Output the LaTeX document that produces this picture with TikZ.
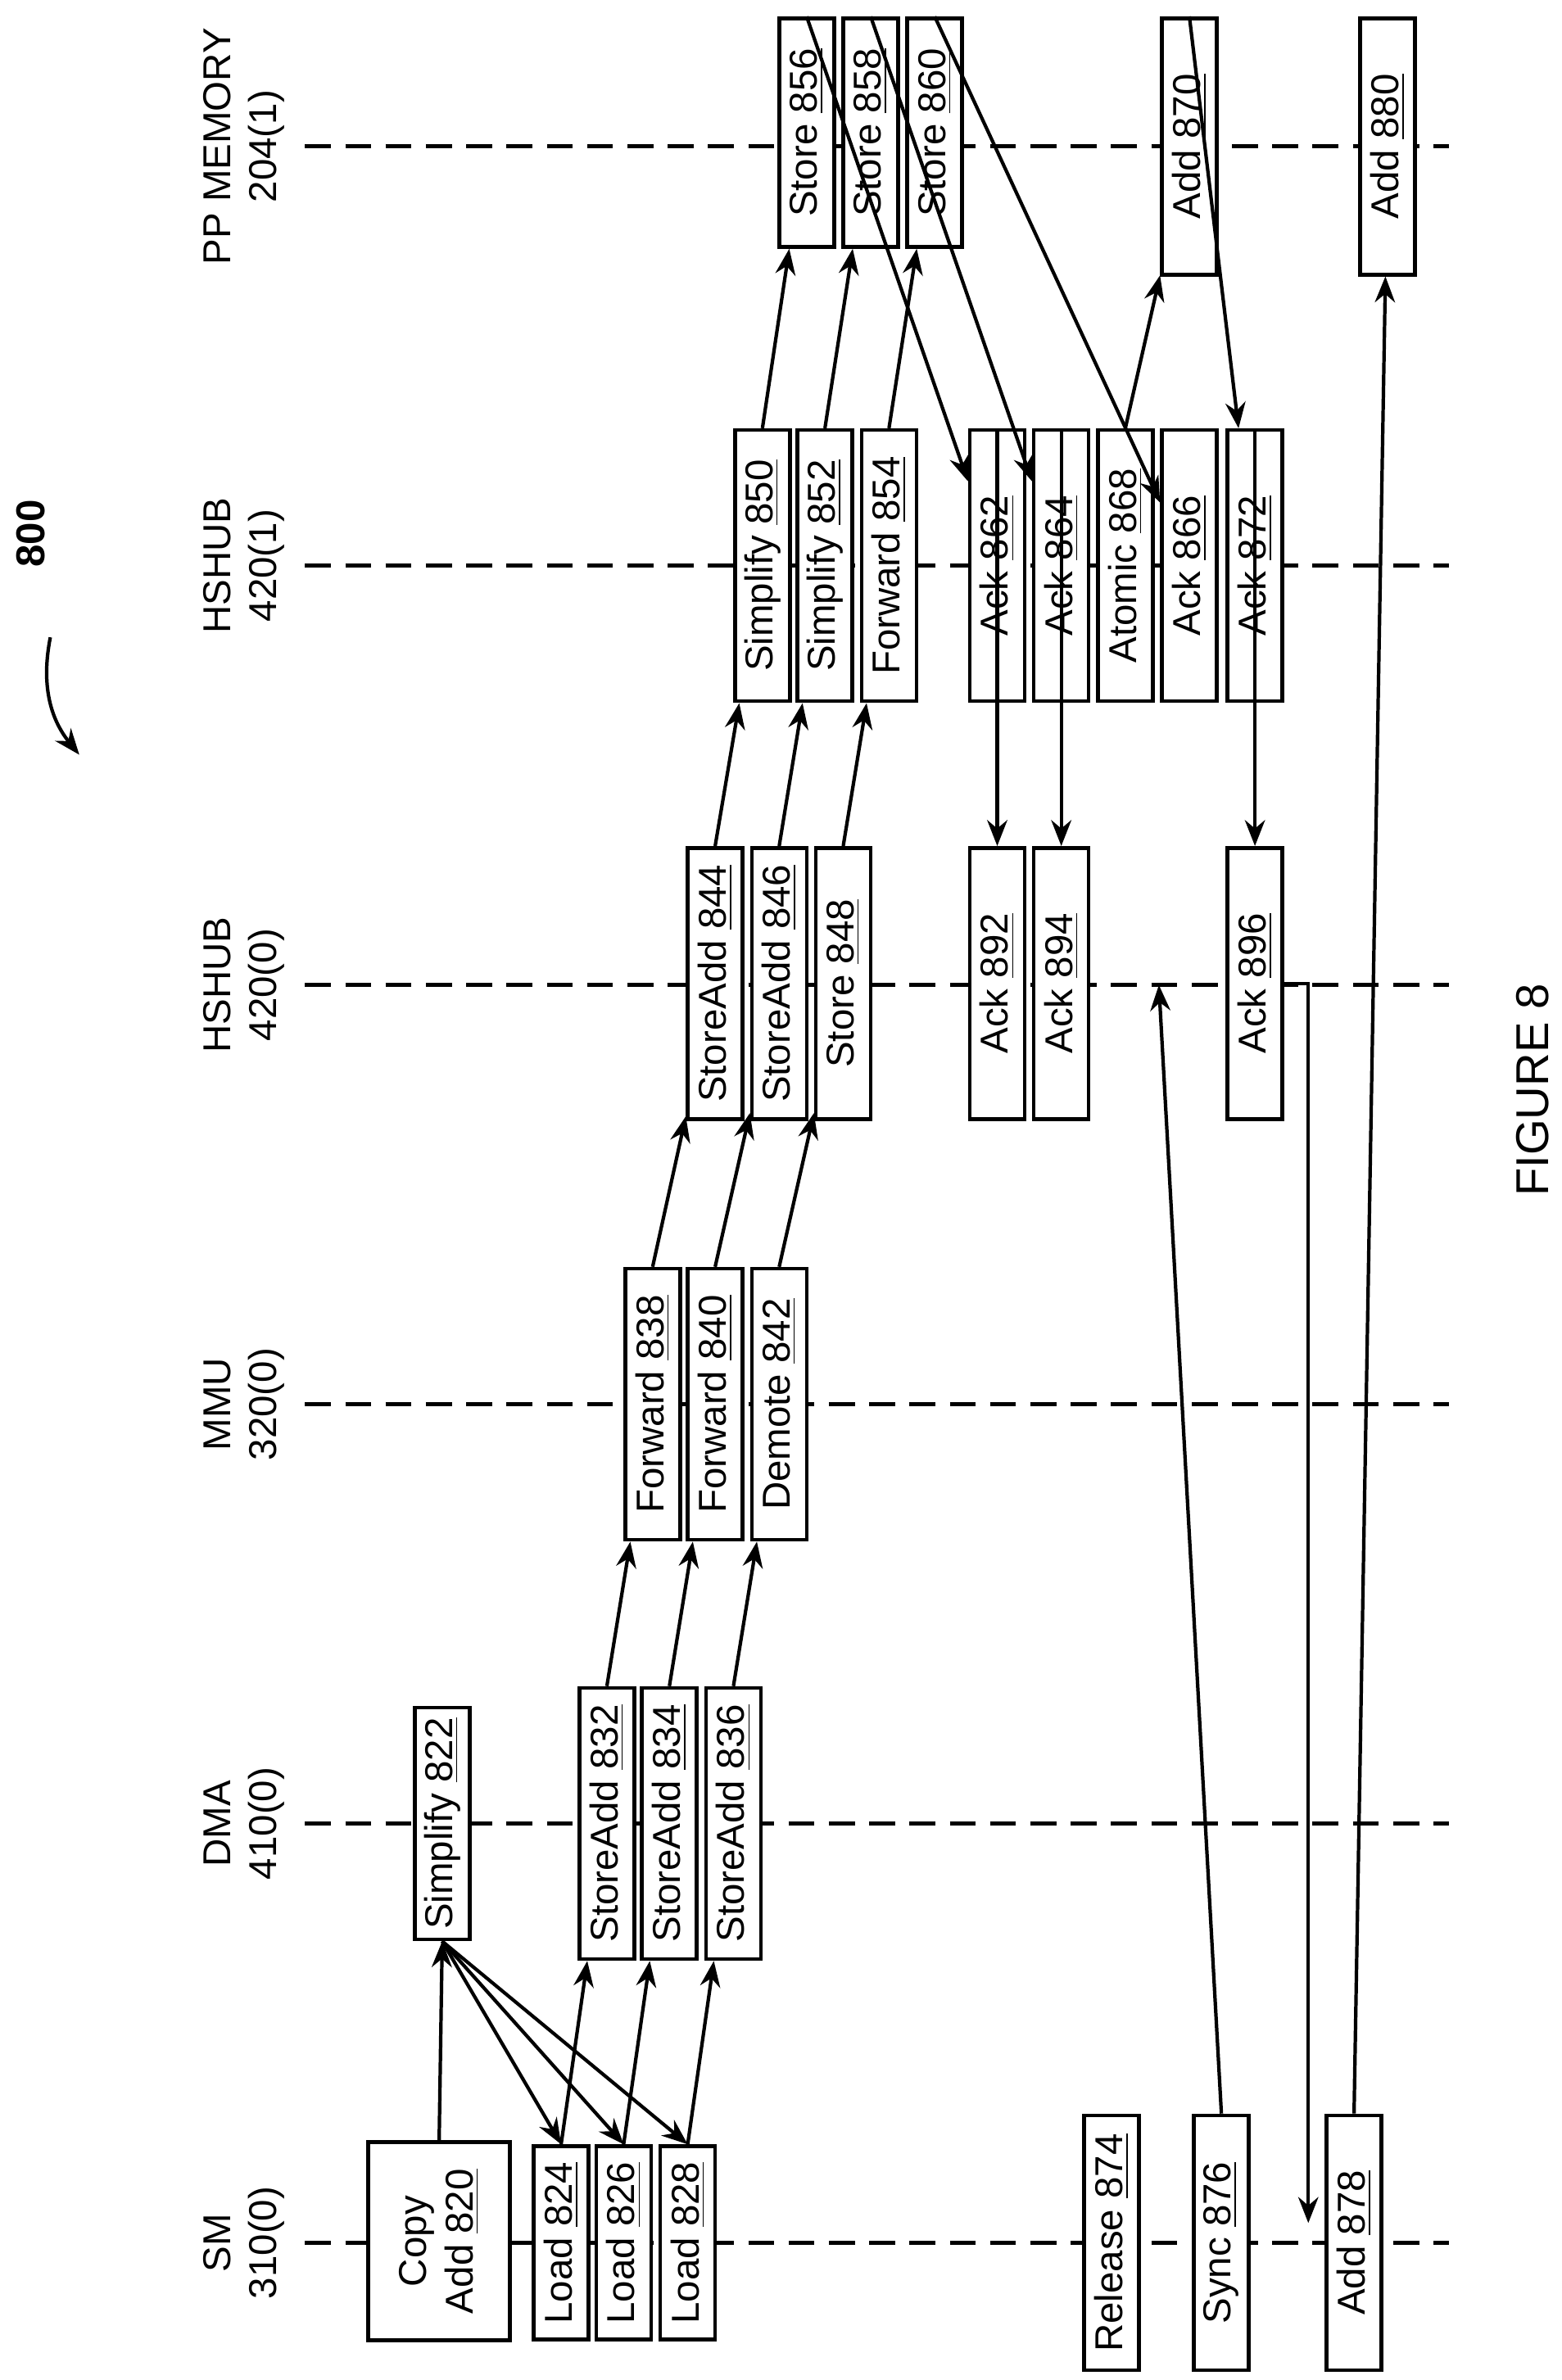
\documentclass[tikz,border=0pt]{standalone}
\usepackage{fontspec}
\setmainfont{Liberation Sans}
\usetikzlibrary{arrows.meta,positioning,calc}

\tikzset{
  box/.style={draw, line width=1.3pt, rotate=90, minimum height=0.67cm,
    minimum width=#1, inner sep=2pt, fill=white, font=\fontsize{13.5}{16}\selectfont},
  box/.default=3.31cm,
  life/.style={line width=1.4pt, dash pattern=on 9pt off 5pt},
  lbl/.style={rotate=90, align=center, font=\fontsize{13.5}{16}\selectfont},
  msg/.style={line width=1.2pt, -{Stealth[length=9pt,width=7pt]}}
}

\begin{document}
\begin{tikzpicture}[x=0.01861cm, y=0.01861cm]
  \useasboundingbox (0,0) rectangle (1024,-1561);

  % lifelines
  \foreach \yy/\name/\num in {1471/SM/310(0), 1196/DMA/410(0), 921/MMU/320(0),
      646/HSHUB/420(0), 371/HSHUB/420(1), 96/PP MEMORY/204(1)} {
    \draw[life] (200,-\yy) -- (950,-\yy);
    \node[lbl] at (160,-\yy) {\name\\\num};
  }

  % SM
  \node[box=2.42cm, minimum height=1.73cm, align=center] (a820) at (288,-1470) {Copy\\Add \underline{820}};
  \node[box=2.36cm] (l824) at (368,-1471) {Load \underline{824}};
  \node[box=2.36cm] (l826) at (409,-1471) {Load \underline{826}};
  \node[box=2.36cm] (l828) at (451,-1471) {Load \underline{828}};
  \node[box=3.11cm] (r874) at (729,-1471) {Release \underline{874}};
  \node[box=3.11cm] (s876) at (801,-1471) {Sync \underline{876}};
  \node[box=3.11cm] (a878) at (888,-1471) {Add \underline{878}};

  % DMA
  \node[box=2.83cm] (s822) at (290,-1196) {Simplify \underline{822}};
  \node[box] (sa832) at (398,-1196) {StoreAdd \underline{832}};
  \node[box] (sa834) at (439,-1196) {StoreAdd \underline{834}};
  \node[box] (sa836) at (481,-1196) {StoreAdd \underline{836}};

  % MMU
  \node[box] (f838) at (428,-921) {Forward \underline{838}};
  \node[box] (f840) at (469,-921) {Forward \underline{840}};
  \node[box] (d842) at (511,-921) {Demote \underline{842}};

  % HSHUB 0
  \node[box] (sa844) at (469,-645) {StoreAdd \underline{844}};
  \node[box] (sa846) at (511,-645) {StoreAdd \underline{846}};
  \node[box] (st848) at (553,-645) {Store \underline{848}};
  \node[box] (k892) at (654,-645) {Ack \underline{892}};
  \node[box] (k894) at (696,-645) {Ack \underline{894}};
  \node[box] (k896) at (823,-645) {Ack \underline{896}};

  % HSHUB 1
  \node[box] (s850) at (500,-371) {Simplify \underline{850}};
  \node[box] (s852) at (541,-371) {Simplify \underline{852}};
  \node[box] (f854) at (583,-371) {Forward \underline{854}};
  \node[box] (k862) at (654,-371) {Ack \underline{862}};
  \node[box] (k864) at (696,-371) {Ack \underline{864}};
  \node[box] (at868) at (738,-371) {Atomic \underline{868}};
  \node[box] (k866) at (780,-371) {Ack \underline{866}};
  \node[box] (k872) at (823,-371) {Ack \underline{872}};

  % PP memory
  \node[box=2.79cm] (st856) at (529,-87) {Store \underline{856}};
  \node[box=2.79cm] (st858) at (571,-87) {Store \underline{858}};
  \node[box=2.79cm] (st860) at (613,-87) {Store \underline{860}};
  \node[box=3.13cm] (a870) at (780,-96) {Add \underline{870}};
  \node[box=3.13cm] (a880) at (910,-96) {Add \underline{880}};

  \coordinate (ret896) at (858,-1458);
  \coordinate (hub0) at (760,-646);

  \draw[msg] (a820.east) -- (s822.west);
  \foreach \t in {l824,l826,l828} \draw[msg] (s822.west) -- (\t.east);
  \foreach \f/\t in {l824/sa832, l826/sa834, l828/sa836,
      sa832/f838, sa834/f840, sa836/d842,
      f838/sa844, f840/sa846, d842/st848,
      sa844/s850, sa846/s852, st848/f854,
      s850/st856, s852/st858, f854/st860,
      st856/k862, st858/k864, st860/k866,
      at868/a870, a870/k872,
      k862/k892, k864/k894, k872/k896,
      s876/hub0, a878/a880}
    \draw[msg] (\f.east |- \f.east) -- (\t);
  \draw[msg] (k896.south) -| (ret896);

  % title
  \node[lbl, font=\fontsize{14}{16}\selectfont\bfseries] (fig) at (20,-350) {800};
  \coordinate (c1) at (33,-418);
  \coordinate (c2) at (52,-495);
  \draw[msg] (c1) to[bend right=25] (c2);
  \node[lbl, font=\fontsize{16}{18}\selectfont] (cap) at (1005,-715) {FIGURE 8};
\end{tikzpicture}
\end{document}
